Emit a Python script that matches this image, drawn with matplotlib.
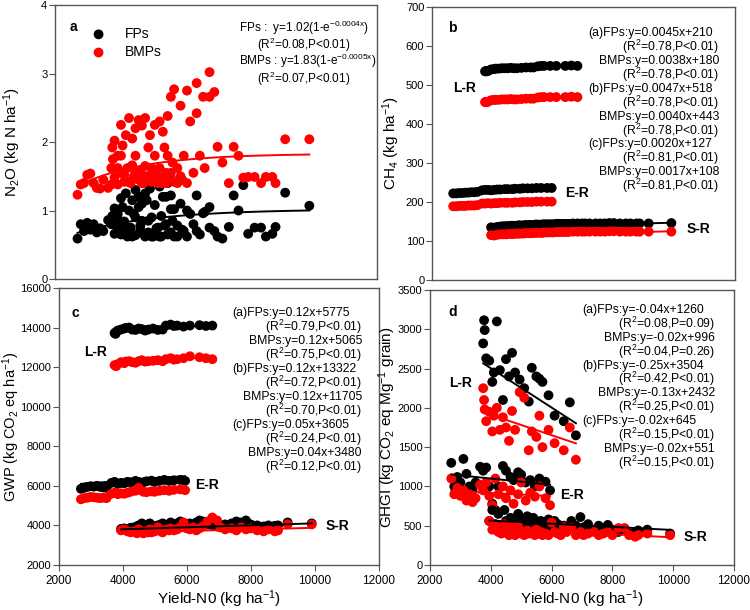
import numpy as np
import matplotlib
matplotlib.use("Agg")
import matplotlib.pyplot as plt

plt.rcParams['font.family'] = ['Liberation Sans', 'DejaVu Sans']
plt.rcParams['mathtext.default'] = 'regular'

# Yield-N0 (kg/ha) for each rice region: E-R, L-R, S-R
x_er = [2700, 2800, 2900, 3000, 3100, 3200, 3300, 3400, 3500, 3650,
        3750, 3850, 3950, 4050, 4150, 4250, 4400, 4500, 4650, 4750,
        4900, 5000, 5150, 5300, 5450, 5600, 5800, 5950]
x_lr = [3750, 3780, 3800, 3850, 3950, 4050, 4100, 4200, 4300, 4400,
        4500, 4600, 4700, 4800, 4950, 5100, 5250, 5350, 5500, 5600,
        5700, 5900, 6100, 6400, 6600, 6800]
x_sr = [3950, 4050, 4150, 4250, 4350, 4450, 4500, 4600, 4650, 4700,
        4800, 4850, 4900, 5000, 5050, 5100, 5200, 5250, 5300, 5400,
        5450, 5500, 5600, 5650, 5700, 5800, 5900, 6000, 6100, 6200,
        6300, 6400, 6500, 6650, 6800, 6950, 7050, 7200, 7400, 7550,
        7700, 7850, 8000, 8200, 8400, 8550, 8750, 8850, 9150, 9900]

# (a) N2O, kg N/ha
n2o_fp_er = [0.59, 0.80, 0.70, 0.82, 0.72, 0.80, 0.68, 0.74, 0.70, 0.86,
             0.80, 0.66, 0.88, 0.76, 0.84, 0.70, 0.62, 0.90, 0.78, 0.66,
             0.85, 0.62, 0.74, 0.62, 0.80, 0.68, 0.62, 0.72]
n2o_bmp_er = [1.23, 1.38, 1.40, 1.52, 1.54, 1.40, 1.33, 1.32, 1.45, 1.33,
              1.38, 1.48, 1.62, 1.80, 1.52, 1.42, 1.66, 1.55, 1.45, 1.40,
              1.50, 1.62, 1.46, 1.40, 1.55, 1.48, 1.40, 1.45]
n2o_fp_lr = [0.85, 0.92, 0.80, 1.03, 0.95, 1.18, 1.05, 1.25, 1.00, 1.15,
             1.30, 1.20, 1.10, 1.25, 1.32, 1.52, 1.35, 1.20, 1.40, 1.22,
             1.02, 1.45, 1.00, 1.22, 0.96, 1.05]
n2o_bmp_lr = [1.62, 1.92, 1.75, 2.02, 1.80, 2.25, 1.95, 2.10, 2.35, 2.05,
              2.20, 2.32, 2.24, 2.35, 2.10, 2.25, 2.30, 2.15, 2.38, 2.66,
              2.77, 2.53, 2.75, 2.86, 2.66, 3.02]
n2o_fp_sr = [0.72, 0.65, 0.82, 0.62, 0.75, 0.95, 0.64, 1.05, 0.72, 0.85,
             0.62, 1.15, 0.68, 0.90, 0.62, 1.08, 0.75, 0.62, 0.92, 0.78,
             1.20, 0.65, 1.02, 0.85, 0.62, 0.78, 1.10, 0.70, 0.62, 0.95,
             0.80, 0.70, 0.65, 0.98, 0.75, 0.70, 0.62, 0.59, 0.76, 1.22,
             1.00, 1.37, 0.66, 0.75, 0.75, 0.62, 0.66, 0.76, 1.26, 1.07]
n2o_bmp_sr = [1.38, 1.55, 1.42, 1.62, 1.40, 1.50, 1.80, 1.45, 1.58, 1.40,
              1.65, 1.50, 1.92, 1.42, 1.55, 1.80, 1.40, 1.62, 1.48, 1.92,
              1.40, 1.80, 1.55, 1.70, 1.42, 1.62, 1.50, 1.80, 1.40, 2.30,
              1.55, 2.42, 1.80, 1.62, 2.66, 2.73, 1.93, 1.70, 1.40, 1.93,
              1.80, 1.48, 1.49, 1.49, 1.40, 1.49, 1.49, 1.40, 2.04, 2.04]

# (b) CH4, kg/ha
ch4_fp_er = [222, 222, 223, 223, 224, 224, 225, 225, 226, 230,
             231, 231, 230, 231, 232, 232, 233, 233, 233, 234,
             234, 235, 235, 235, 236, 236, 236, 236]
ch4_bmp_er = [189, 189, 190, 190, 190, 191, 191, 191, 192, 196,
              196, 197, 196, 197, 197, 198, 198, 198, 198, 199,
              199, 200, 200, 200, 201, 201, 201, 201]
ch4_fp_lr = [535, 536, 535, 536, 540, 541, 542, 542, 543, 543,
             543, 544, 543, 543, 544, 545, 545, 545, 548, 549,
             549, 549, 549, 549, 550, 549]
ch4_bmp_lr = [456, 457, 456, 457, 461, 462, 462, 462, 463, 463,
              463, 464, 463, 463, 464, 465, 465, 465, 468, 469,
              469, 469, 469, 469, 470, 469]
ch4_fp_sr = [135, 134, 136, 137, 138, 138, 138, 139, 139, 139,
             139, 140, 140, 140, 140, 141, 141, 141, 141, 142,
             142, 142, 142, 142, 143, 143, 143, 143, 144, 144,
             144, 144, 144, 145, 145, 145, 145, 145, 145, 145,
             145, 146, 146, 145, 145, 145, 145, 145, 145, 146]
ch4_bmp_sr = [115, 114, 116, 117, 117, 117, 118, 118, 118, 118,
              119, 119, 119, 119, 120, 120, 120, 120, 120, 121,
              121, 121, 121, 121, 122, 122, 122, 122, 123, 123,
              123, 123, 123, 124, 124, 124, 124, 124, 124, 124,
              124, 125, 125, 124, 124, 124, 124, 124, 124, 124]

# (c) GWP, kg CO2 eq/ha
gwp_fp_er = [5850, 5900, 5950, 5980, 5960, 6000, 5950, 5920, 5900, 6150,
             6200, 6100, 6150, 6130, 6200, 6180, 6250, 6200, 6180, 6230,
             6260, 6200, 6250, 6300, 6250, 6280, 6300, 6250]
gwp_bmp_er = [5320, 5380, 5400, 5440, 5420, 5400, 5380, 5400, 5380, 5600,
              5650, 5580, 5620, 5600, 5650, 5700, 5750, 5900, 5700, 5680,
              5720, 5700, 5750, 5780, 5750, 5800, 5820, 5780]
gwp_fp_lr = [13720, 13680, 13780, 13850, 13900, 13950, 13980, 14000, 13900, 13880,
             13950, 13920, 13850, 13900, 13950, 13880, 13900, 14100, 14150, 14080,
             14100, 14050, 14100, 14120, 14080, 14100]
gwp_bmp_lr = [12100, 12080, 12050, 12150, 12250, 12200, 12280, 12300, 12250, 12220,
              12300, 12350, 12280, 12300, 12320, 12350, 12300, 12400, 12450, 12380,
              12400, 12450, 12550, 12500, 12450, 12400]
gwp_fp_sr = [3820, 3850, 3800, 3880, 3900, 3950, 4000, 4100, 3950, 3900,
             4050, 4100, 3950, 3900, 3980, 4000, 4050, 4100, 4000, 3950,
             4050, 4150, 4000, 4050, 4100, 4200, 4050, 4000, 4100, 4050,
             4150, 4250, 4200, 4050, 4000, 3950, 4000, 4050, 4100, 4200,
             4150, 4250, 4050, 4000, 3950, 4000, 3980, 4000, 4150, 4100]
gwp_bmp_sr = [3750, 3800, 3700, 3650, 3700, 3600, 3800, 3650, 3600, 3700,
              3650, 3800, 3650, 3700, 3750, 3900, 3700, 3650, 3750, 3800,
              3750, 3850, 3750, 3800, 3800, 3900, 4150, 3850, 3800, 3900,
              3750, 3850, 3950, 4200, 4400, 4250, 3900, 3800, 3850, 3750,
              3900, 3800, 3850, 3750, 3700, 3800, 3700, 3750, 4050, 4050]

# (d) GHGI, kg CO2 eq/Mg grain
ghgi_fp_er = [1300, 1000, 1120, 1050, 1350, 1160, 1000, 950, 1050, 1250,
              1200, 1240, 1000, 780, 700, 1000, 1260, 1200, 1120, 1080,
              1180, 1150, 1050, 1080, 1000, 1100, 1060, 950]
ghgi_bmp_er = [1100, 900, 980, 880, 950, 820, 900, 800, 850, 1020,
               950, 1050, 880, 760, 1100, 900, 1000, 850, 950, 780,
               900, 1050, 820, 920, 870, 1000, 850, 760]
ghgi_fp_lr = [2820, 3115, 2990, 2630, 2600, 2330, 2450, 3100, 2480, 2100,
              2620, 2400, 2700, 2450, 2360, 2250, 2080, 2510, 2400, 2370,
              2330, 2160, 1900, 1830, 2070, 1650]
ghgi_bmp_lr = [2250, 2100, 1980, 1830, 1950, 1700, 1900, 2000, 1720, 1880,
               1750, 1580, 1960, 1720, 2200, 2130, 1460, 1700, 1630, 1900,
               1500, 1720, 1550, 1460, 1750, 1340]
ghgi_fp_sr = [560, 700, 520, 650, 480, 700, 560, 450, 600, 520,
              480, 550, 650, 450, 580, 520, 620, 480, 560, 600,
              520, 560, 480, 560, 520, 500, 580, 470, 560, 520,
              480, 500, 450, 560, 500, 610, 480, 520, 450, 500,
              460, 510, 450, 420, 460, 400, 420, 440, 450, 400]
ghgi_bmp_sr = [560, 450, 500, 420, 400, 520, 450, 380, 480, 420,
               380, 450, 500, 400, 420, 380, 440, 400, 420, 400,
               380, 450, 400, 420, 380, 400, 380, 540, 420, 400,
               380, 480, 420, 470, 380, 420, 380, 400, 420, 380,
               400, 420, 380, 470, 470, 380, 360, 380, 400, 380]

# fitted equations, region order E-R (a), L-R (b), S-R (c)
n2o_fp_fit = (1.02, 0.0004)
n2o_bmp_fit = (1.83, 0.0005)
ch4_fp_fit = [(0.0045, 210), (0.0047, 518), (0.0020, 127)]
ch4_bmp_fit = [(0.0038, 180), (0.0040, 443), (0.0017, 108)]
ch4_fp_r2 = ['0.78', '0.78', '0.81']
ch4_bmp_r2 = ['0.78', '0.78', '0.81']
ch4_fp_p = ['P<0.01', 'P<0.01', 'P<0.01']
ch4_bmp_p = ['P<0.01', 'P<0.01', 'P<0.01']
gwp_fp_fit = [(0.12, 5775), (0.12, 13322), (0.05, 3605)]
gwp_bmp_fit = [(0.12, 5065), (0.12, 11705), (0.04, 3480)]
gwp_fp_r2 = ['0.79', '0.72', '0.24']
gwp_bmp_r2 = ['0.75', '0.70', '0.12']
gwp_fp_p = ['P<0.01', 'P<0.01', 'P<0.01']
gwp_bmp_p = ['P<0.01', 'P<0.01', 'P<0.01']
ghgi_fp_fit = [(-0.04, 1260), (-0.25, 3504), (-0.02, 645)]
ghgi_bmp_fit = [(-0.02, 996), (-0.13, 2432), (-0.02, 551)]
ghgi_fp_r2 = ['0.08', '0.42', '0.15']
ghgi_bmp_r2 = ['0.04', '0.25', '0.15']
ghgi_fp_p = ['P=0.09', 'P<0.01', 'P<0.01']
ghgi_bmp_p = ['P=0.26', 'P<0.01', 'P<0.01']

regions = ['E-R', 'L-R', 'S-R']
region_x = [x_er, x_lr, x_sr]
tags = ['a', 'b', 'c']

FP_COLOR = 'black'
BMP_COLOR = '#ff0000'
SPINE = '#555555'
MS = 50
EQ_FS = 8.8
LBL_FS = 11


def style_axes(ax, ylim, ystep, xlabels):
    ax.set_xlim(2000, 12000)
    ax.set_ylim(*ylim)
    ax.set_yticks(np.arange(ylim[0], ylim[1] + ystep / 2, ystep))
    ax.set_xticks(np.arange(2000, 12001, 2000))
    for s in ax.spines.values():
        s.set_color(SPINE)
        s.set_linewidth(1.0)
    ax.tick_params(axis='y', direction='out', length=4, width=0.8,
                   color=SPINE, labelsize=8, pad=1.5)
    if xlabels:
        ax.tick_params(axis='x', direction='out', length=4, width=0.8,
                       color=SPINE, labelsize=8.5, pad=3)
        ax.set_xlabel('Yield-N0 (kg ha$^{-1}$)', fontsize=LBL_FS)
        ax.xaxis.set_label_coords(0.5, -0.085)
    else:
        ax.tick_params(axis='x', length=0, labelbottom=False)


def linear_panel(ax, fp_data, bmp_data, fp_fit, bmp_fit):
    for xs, yf, yb in zip(region_x, fp_data, bmp_data):
        ax.scatter(xs, yf, s=MS, c=FP_COLOR, edgecolors='none', zorder=2)
        ax.scatter(xs, yb, s=MS, c=BMP_COLOR, edgecolors='none', zorder=2)
    for xs, (a1, b1), (a2, b2) in zip(region_x, fp_fit, bmp_fit):
        xx = np.array([min(xs), max(xs)])
        ax.plot(xx, a1 * xx + b1, color=FP_COLOR, lw=1.4, zorder=3)
        ax.plot(xx, a2 * xx + b2, color=BMP_COLOR, lw=1.4, zorder=3)


def eq_text(ax, fp_fit, bmp_fit, fp_r2, bmp_r2, fp_p, bmp_p, fmt,
            xl, xr, y0, dy):
    lines = []
    for i in range(3):
        a1, b1 = fp_fit[i]
        a2, b2 = bmp_fit[i]
        lines.append((f'({tags[i]})FPs:y={a1:{fmt}}x+{b1}', 'left'))
        lines.append((f'(R$^2$={fp_r2[i]},{fp_p[i]})', 'right'))
        lines.append((f'BMPs:y={a2:{fmt}}x+{b2}', 'right'))
        lines.append((f'(R$^2$={bmp_r2[i]},{bmp_p[i]})', 'right'))
    for k, (t, ha) in enumerate(lines):
        ax.text(xl if ha == 'left' else xr, y0 - k * dy, t, ha=ha,
                va='center', fontsize=EQ_FS, transform=ax.transAxes)


def region_labels(ax, pos):
    for name, (px, py) in zip(regions, pos):
        ax.text(px, py, name, fontsize=10, fontweight='bold',
                ha='center', va='center', transform=ax.transAxes)


fig = plt.figure(figsize=(7.5, 6.1), dpi=100)
ax_a = fig.add_axes([0.0733, 0.5426, 0.4293, 0.4492])
ax_b = fig.add_axes([0.576, 0.541, 0.404, 0.4475])
ax_c = fig.add_axes([0.078, 0.0738, 0.4273, 0.4541])
ax_d = fig.add_axes([0.5733, 0.0738, 0.4053, 0.4508])

# ---- panel a ----
x_all = np.concatenate([x_er, x_lr, x_sr])
ax_a.scatter(x_all, n2o_fp_er + n2o_fp_lr + n2o_fp_sr, s=MS, c=FP_COLOR,
             edgecolors='none', zorder=2, label='FPs')
ax_a.scatter(x_all, n2o_bmp_er + n2o_bmp_lr + n2o_bmp_sr, s=MS, c=BMP_COLOR,
             edgecolors='none', zorder=2, label='BMPs')
xx = np.linspace(x_all.min(), x_all.max(), 100)
ax_a.plot(xx, n2o_fp_fit[0] * (1 - np.exp(-n2o_fp_fit[1] * xx)),
          color=FP_COLOR, lw=1.4, zorder=3)
ax_a.plot(xx, n2o_bmp_fit[0] * (1 - np.exp(-n2o_bmp_fit[1] * xx)),
          color=BMP_COLOR, lw=1.4, zorder=3)
style_axes(ax_a, (0, 4), 1, False)
ax_a.set_ylabel('N$_2$O (kg N ha$^{-1}$)', fontsize=LBL_FS)
ax_a.yaxis.set_label_coords(-0.1, 0.5)
ax_a.legend(loc='upper left', bbox_to_anchor=(0.075, 0.94), frameon=False,
            fontsize=10, handletextpad=0.9, labelspacing=0.3,
            borderaxespad=0, scatterpoints=1)
ax_a.text(0.056, 0.92, 'a', fontsize=10, fontweight='bold',
          ha='center', va='center', transform=ax_a.transAxes)
eqa = [
    (f'FPs :  y={n2o_fp_fit[0]}(1-e$^{{-{n2o_fp_fit[1]}x}}$)', 'left', 0.571, 0.918),
    ('(R$^2$=0.08,P<0.01)', 'center', 0.773, 0.855),
    (f'BMPs : y={n2o_bmp_fit[0]}(1-e$^{{-{n2o_bmp_fit[1]}x}}$)', 'left', 0.571, 0.795),
    ('(R$^2$=0.07,P<0.01)', 'center', 0.773, 0.732),
]
for t, ha, px, py in eqa:
    ax_a.text(px, py, t, ha=ha, va='center', fontsize=8.5,
              transform=ax_a.transAxes)

# ---- panel b ----
linear_panel(ax_b, [ch4_fp_er, ch4_fp_lr, ch4_fp_sr],
             [ch4_bmp_er, ch4_bmp_lr, ch4_bmp_sr], ch4_fp_fit, ch4_bmp_fit)
style_axes(ax_b, (0, 700), 100, False)
ax_b.set_ylabel('CH$_4$ (kg ha$^{-1}$)', fontsize=LBL_FS)
ax_b.yaxis.set_label_coords(-0.1, 0.5)
ax_b.text(0.066, 0.923, 'b', fontsize=10, fontweight='bold',
          ha='center', va='center', transform=ax_b.transAxes)
eq_text(ax_b, ch4_fp_fit, ch4_bmp_fit, ch4_fp_r2, ch4_bmp_r2, ch4_fp_p,
        ch4_bmp_p, '.4f', 0.516, 0.947, 0.904, 0.0509)
region_labels(ax_b, [(0.479, 0.319), (0.109, 0.703), (0.878, 0.187)])

# ---- panel c ----
linear_panel(ax_c, [gwp_fp_er, gwp_fp_lr, gwp_fp_sr],
             [gwp_bmp_er, gwp_bmp_lr, gwp_bmp_sr], gwp_fp_fit, gwp_bmp_fit)
style_axes(ax_c, (2000, 16000), 2000, True)
ax_c.set_ylabel('GWP (kg CO$_2$ eq ha$^{-1}$)', fontsize=10.5)
ax_c.yaxis.set_label_coords(-0.113, 0.5)
ax_c.text(0.052, 0.91, 'c', fontsize=10, fontweight='bold',
          ha='center', va='center', transform=ax_c.transAxes)
eq_text(ax_c, gwp_fp_fit, gwp_bmp_fit, gwp_fp_r2, gwp_bmp_r2, gwp_fp_p,
        gwp_bmp_p, '.2f', 0.543, 0.947, 0.909, 0.0505)
region_labels(ax_c, [(0.463, 0.289), (0.117, 0.769), (0.870, 0.141)])

# ---- panel d ----
linear_panel(ax_d, [ghgi_fp_er, ghgi_fp_lr, ghgi_fp_sr],
             [ghgi_bmp_er, ghgi_bmp_lr, ghgi_bmp_sr], ghgi_fp_fit, ghgi_bmp_fit)
style_axes(ax_d, (0, 3500), 500, True)
ax_d.set_ylabel('GHGI (kg CO$_2$ eq Mg$^{-1}$ grain)', fontsize=LBL_FS)
ax_d.yaxis.set_label_coords(-0.105, 0.5)
ax_d.text(0.076, 0.92, 'd', fontsize=10, fontweight='bold',
          ha='center', va='center', transform=ax_d.transAxes)
eq_text(ax_d, ghgi_fp_fit, ghgi_bmp_fit, ghgi_fp_r2, ghgi_bmp_r2, ghgi_fp_p,
        ghgi_bmp_p, '.2f', 0.502, 0.9375, 0.927, 0.0504)
region_labels(ax_d, [(0.467, 0.255), (0.099, 0.662), (0.872, 0.102)])

fig.savefig('out.png', dpi=100)
